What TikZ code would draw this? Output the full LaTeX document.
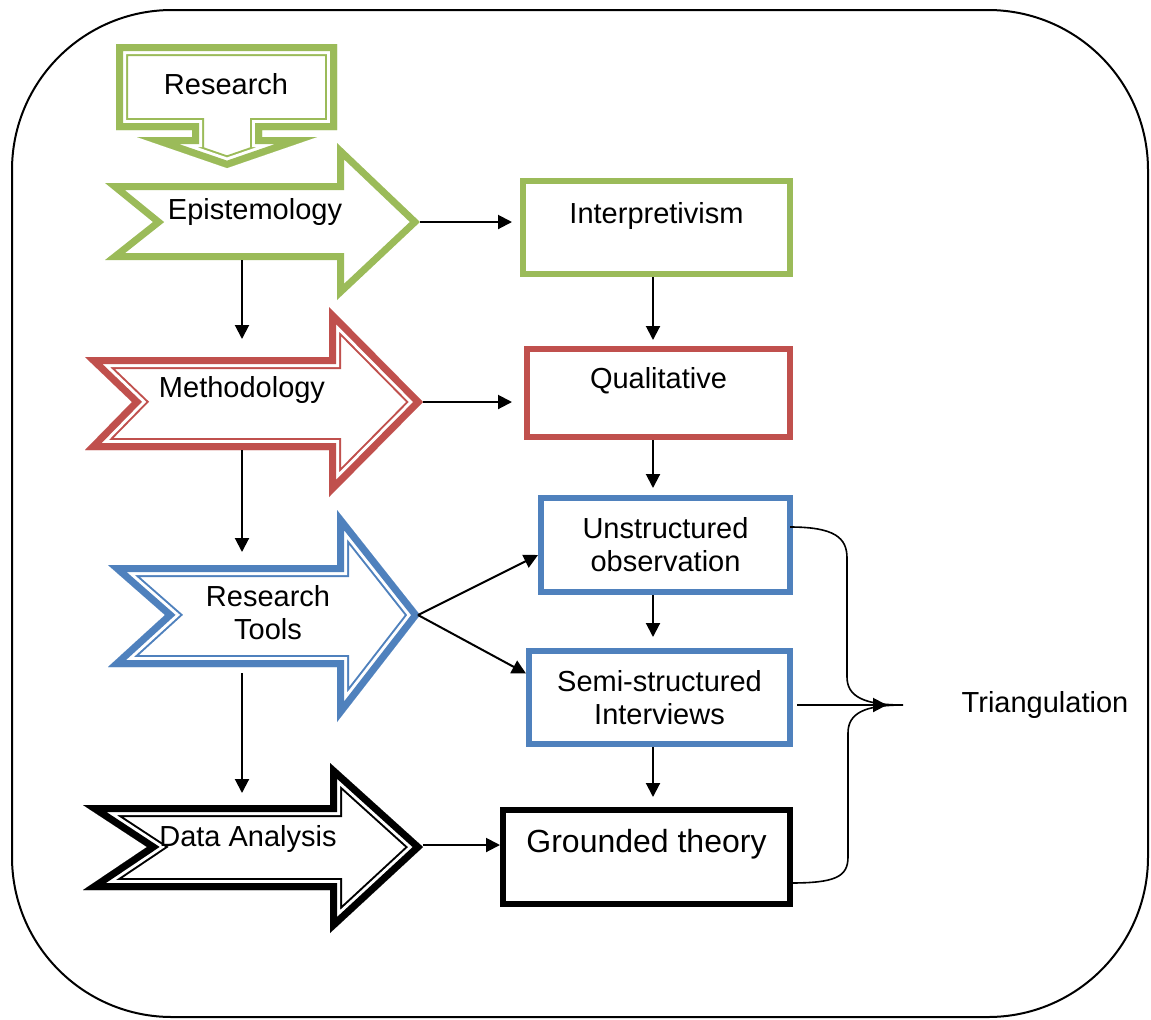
\documentclass[tikz,border=0pt]{standalone}
\usepackage{fontspec}
\setmainfont{Liberation Sans}
\usetikzlibrary{arrows.meta}

\definecolor{ogreen}{RGB}{155,187,89}
\definecolor{ored}{RGB}{192,80,77}
\definecolor{oblue}{RGB}{79,129,189}

% thick outer line, thin inner line, both inside the path
\newcommand{\thickthin}[2]{%
  \begin{scope}
    \clip #2;
    \draw[#1, line width=12pt] #2;
    \draw[white, line width=10pt] #2;
    \draw[#1, line width=7pt] #2;
  \end{scope}}

% single thick line inside the path
\newcommand{\thickline}[2]{%
  \begin{scope}
    \clip #2;
    \draw[#1, line width=7pt] #2;
  \end{scope}}

\begin{document}
\begin{tikzpicture}[x=0.5pt, y=-0.5pt,
  every node/.style={font=\fontsize{14.5}{16.5}\selectfont, align=center},
  conn/.style={line width=1pt, -{Triangle[length=7pt,width=7pt]}},
  box/.style={draw, line width=3pt, inner sep=2pt},
  onerow/.style={text height=10.5pt, text depth=15pt}]

  \useasboundingbox (0,0) rectangle (1151,1019);

  % Outer frame
  \draw[line width=1pt, rounded corners=80pt] (12,10) rectangle (1148,1017);

  % Research (down arrow callout)
  \thickthin{ogreen}{(116,44) -- (337,44) -- (337,130) -- (262,130) -- (262,137) -- (317,137) -- (227,168) -- (137,137) -- (192,137) -- (192,130) -- (116,130) -- cycle}
  \node (research) at (226,84) {Research};

  % Epistemology
  \thickline{ogreen}{(105,183) -- (337,183) -- (337,143) -- (420,222) -- (337,300) -- (337,260) -- (105,260) -- (153,222) -- cycle}
  \node (epi) at (255,212) {Epistemology};
  \coordinate (epi-tip) at (420,222);
  \coordinate (epi-bot) at (242,260);

  % Methodology
  \thickthin{ored}{(85,357) -- (329,357) -- (329,307) -- (423,402) -- (329,497) -- (329,450) -- (85,450) -- (132,402) -- cycle}
  \node (meth) at (242,390) {Methodology};
  \coordinate (meth-tip) at (423,402);
  \coordinate (meth-top) at (242,357);
  \coordinate (meth-bot) at (242,450);

  % Research Tools
  \thickthin{oblue}{(108,565) -- (337,565) -- (337,510) -- (420,615) -- (337,722) -- (337,667) -- (108,667) -- (165,615) -- cycle}
  \node (tools) at (268,613) {Research\\Tools};
  \coordinate (tools-tip) at (418,615);
  \coordinate (tools-top) at (242,565);
  \coordinate (tools-bot) at (242,667);

  % Data Analysis
  \thickthin{black}{(83,805) -- (330,805) -- (330,763) -- (423,847) -- (330,933) -- (330,890) -- (83,890) -- (147,847) -- cycle}
  \node (data) at (248,839) {Data Analysis};
  \coordinate (data-tip) at (423,845);
  \coordinate (data-top) at (242,805);

  % Boxes on the right
  \node[box, onerow, draw=ogreen, minimum width=133.5pt, minimum height=46.5pt] (interp) at (656.5,227.5) {Interpretivism};
  \node[box, onerow, draw=ored, minimum width=131.5pt, minimum height=44pt] (qual) at (658.5,393) {Qualitative};
  \node[box, draw=oblue, minimum width=124.5pt, minimum height=47pt] (unstr) at (665.5,545) {Unstructured\\observation};
  \node[box, draw=oblue, minimum width=130.5pt, minimum height=46.5pt] (semi) at (659.5,697.5) {Semi-structured\\Interviews};
  \node[box, draw=black, minimum width=143.5pt, minimum height=47pt, font=\fontsize{16}{19}\selectfont,
        text height=11.5pt, text depth=16.5pt] (ground) at (646.5,857) {Grounded theory};

  \node (tri) at (1045,705) {Triangulation};

  % Arrows from the big arrows to the boxes
  \draw[conn, shorten >=4pt] (epi-tip) -- (epi-tip -| interp.west);
  \draw[conn, shorten >=6pt] (meth-tip) -- (meth-tip -| qual.west);
  \draw[conn] (tools-tip) -- ([yshift=-5pt]unstr.west);
  \draw[conn] (tools-tip) -- ([yshift=12pt]semi.west);
  \draw[conn] (data-tip) -- (data-tip -| ground.west);

  % Arrows down the left column
  \draw[conn, shorten >=9pt] (epi-bot) -- (meth-top);
  \draw[conn, shorten >=6.5pt] (meth-bot) -- (tools-top);
  \draw[conn, shorten <=3pt, shorten >=6pt] (tools-bot) -- (data-top);

  % Arrows down the right column
  \coordinate (rx) at (653,0);
  \draw[conn, shorten >=3pt] (interp.south -| rx) -- (qual.north -| rx);
  \draw[conn, shorten >=3.5pt] (qual.south -| rx) -- (unstr.north -| rx);
  \draw[conn, shorten >=5.5pt] (unstr.south -| rx) -- (semi.north -| rx);
  \draw[conn, shorten >=5pt] (semi.south -| rx) -- (ground.north -| rx);

  % Brace to Triangulation
  \coordinate (br-top) at (790,527);
  \coordinate (br-bot) at (790,883);
  \coordinate (br-tip) at (903,705);
  \draw[line width=0.8pt] (br-top) .. controls (835,527) and (847,538) .. (847,558)
    -- (847,677) .. controls (847,697) and (865,705) .. (br-tip)
    .. controls (865,705) and (848,713) .. (848,733)
    -- (848,857) .. controls (848,877) and (835,883) .. (br-bot);
  \draw[conn, shorten <=2pt, shorten >=8pt] (semi.east |- br-tip) -- (br-tip);

\end{tikzpicture}
\end{document}
